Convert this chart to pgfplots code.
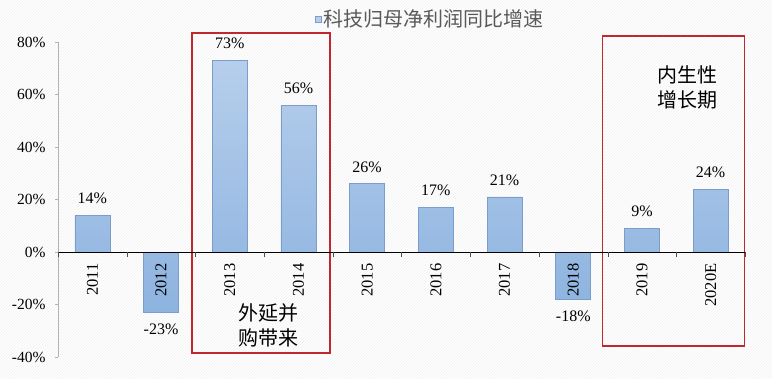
\documentclass[border=0pt]{standalone}
\usepackage{pgfplots}
\pgfplotsset{compat=1.18}
\usepackage{fontspec}
\setmainfont{Liberation Serif}
\newfontfamily\cjk{Noto Sans CJK SC}
\usetikzlibrary{patterns}
\definecolor{barlight}{HTML}{B6CEEB}
\definecolor{bardark}{HTML}{8DB3E0}
\definecolor{barborder}{HTML}{7B9DC9}
\definecolor{boxred}{HTML}{C0282D}
\definecolor{legtext}{HTML}{595959}
\begin{document}
\begin{tikzpicture}
\useasboundingbox (0pt,0pt) rectangle (772pt,378pt);
\fill[white] (0pt,0pt) rectangle (772pt,378pt);
\fill[pattern=north east lines, pattern color=gray!10] (0pt,0pt) rectangle (772pt,378pt);
% legend
\node[fill=barlight, draw=barborder, line width=0.3pt, minimum size=6pt, inner sep=0pt] at (318pt,359pt) {};
\node[anchor=west, text=legtext, font=\cjk\fontsize{20}{22}\selectfont, inner sep=0pt] at (323pt,359pt) {科技归母净利润同比增速};
\begin{axis}[
  at={(58pt,21pt)}, anchor=south west,
  scale only axis, width=687pt, height=315pt,
  xmin=-0.5, xmax=9.5, ymin=-40, ymax=80,
  clip=false, axis on top,
  axis y line=left, axis x line=middle,
  y axis line style={gray!60, -}, x axis line style={black, -},
  ytick={-40,-20,0,20,40,60,80},
  yticklabel={\pgfmathprintnumber{\tick}\%},
  /pgf/number format/assume math mode=true,
  yticklabel style={font=\fontsize{15.5}{17}\selectfont, xshift=-6pt},
  ytick style={gray!60},
  major tick length=3pt,
  tick align=outside,
  xtick={0,...,9},
  xticklabels={2011,2012,2013,2014,2015,2016,2017,2018,2019,2020E},
  xtick style={draw=none},
  xticklabel style={rotate=90, anchor=east, font=\fontsize{16.5}{18}\selectfont, xshift=-5pt},
  extra x ticks={-0.5,0.5,...,9.5},
  extra x tick labels={},
  extra x tick style={xtick style={draw=black!70}, major tick length=5pt},
  ybar, bar width=35pt,
  nodes near coords={\pgfmathprintnumber{\pgfplotspointmeta}\%},
  nodes near coords style={font=\fontsize{16}{18}\selectfont, inner ysep=11pt, inner xsep=2pt},
]
\addplot[draw=barborder, top color=barlight, bottom color=bardark, line width=0.6pt]
  coordinates {(0,14) (1,-23) (2,73) (3,56) (4,26) (5,17) (6,21) (7,-18) (8,9) (9,24)};
\draw[boxred, line width=1.4pt] (axis cs:1.45,83.4) rectangle (axis cs:3.46,-38.5);
\draw[boxred, line width=1.4pt] (axis cs:7.43,82.3) rectangle (axis cs:9.49,-35.8);
\node[font=\cjk\fontsize{20}{22}\selectfont, align=center] at (axis cs:2.56,-28) {外延并\\[3pt]购带来};
\node[font=\cjk\fontsize{20}{22}\selectfont, align=center] at (axis cs:8.67,62.5) {内生性\\[3pt]增长期};
\end{axis}
\end{tikzpicture}
\end{document}
